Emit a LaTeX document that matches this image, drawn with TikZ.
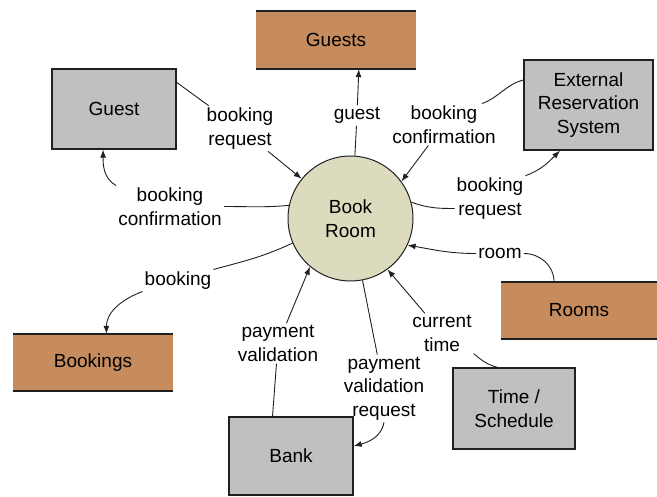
\documentclass[tikz,border=0pt]{standalone}
\usepackage{fontspec}
\setmainfont{Liberation Sans}
\usetikzlibrary{arrows.meta}

\definecolor{storebrown}{HTML}{C68C5E}
\definecolor{entitygray}{HTML}{C0C0C0}
\definecolor{bubblefill}{HTML}{DDDBBE}
\definecolor{inkline}{HTML}{202020}

\tikzset{
  every node/.style={font=\fontsize{19}{23.5}\selectfont, text=black},
  proc/.style={rectangle, draw=inkline, line width=1.3pt, fill=entitygray, align=center},
  store/.style={rectangle, draw=none, fill=storebrown, align=center},
  storeedge/.style={draw=inkline, line width=1.5pt},
  bubble/.style={circle, draw=inkline, line width=1pt, fill=bubblefill,
    minimum size=125pt, inner sep=0pt, align=center},
  flowlabel/.style={align=center, inner sep=2pt, yshift=-2.5pt},
  flow/.style={draw=inkline, line width=0.9pt},
  flowarrow/.style={flow, -{Latex[length=8pt,width=6pt]}}
}

\begin{document}
\begin{tikzpicture}[x=1pt,y=1pt]
  \useasboundingbox (0,0) rectangle (657,-497);

  % external entities
  \node[proc, minimum width=124pt, minimum height=80pt] (guest) at (114,-109) {Guest};
  \node[proc, minimum width=129pt, minimum height=90pt] (ext) at (588.5,-105) {External\\Reservation\\System};
  \node[proc, minimum width=122pt, minimum height=81pt] (time) at (514,-408.5) {Time /\\Schedule};
  \node[proc, minimum width=124pt, minimum height=78pt] (bank) at (291,-456) {Bank};

  % data stores
  \node[store, minimum width=160pt, minimum height=58pt] (guests) at (336,-40) {Guests};
  \node[store, minimum width=156pt, minimum height=57pt] (rooms) at (579,-310.5) {Rooms};
  \node[store, minimum width=160pt, minimum height=57pt] (bookings) at (93,-362.5) {Bookings};
  \foreach \s in {guests,rooms,bookings}
    \draw[storeedge] (\s.north west) -- (\s.north east)
                     (\s.south west) -- (\s.south east);

  % process
  \node[bubble] (room) at (350.5,-218.5) {Book\\Room};

  % flow labels
  \node[flowlabel] (lbr1)   at (240,-126) {booking\\request};
  \node[flowlabel] (lbc1)   at (170,-204) {booking\\confirmation};
  \node[flowlabel] (lguest) at (357,-113) {guest};
  \node[flowlabel] (lbc2)   at (444,-122) {booking\\confirmation};
  \node[flowlabel] (lbr2)   at (490,-196) {booking\\request};
  \node[flowlabel] (lroom)  at (500,-251) {room};
  \node[flowlabel] (lct)    at (442,-331) {current\\time};
  \node[flowlabel] (lpvr)   at (384,-386) {payment\\validation\\request};
  \node[flowlabel] (lpv)    at (278,-341) {payment\\validation};
  \node[flowlabel] (lbk)    at (178,-278) {booking};

  % Guest -> Book Room
  \draw[flow] (guest.23) -- (lbr1);
  \draw[flowarrow] (lbr1) -- (room);

  % Book Room -> Guest
  \draw[flow] (room.168) to[out=185,in=0] (lbc1.east);
  \draw[flowarrow] (lbc1.north west) to[out=150,in=-90] (guest.-105);

  % Book Room -> Guests
  \draw[flow] (room.86) -- (lguest);
  \draw[flowarrow] (lguest) -- (guests.-52);

  % External Reservation System -> Book Room
  \draw[flow] (ext.159) to[out=195,in=20] ([xshift=-16pt]lbc2.north east);
  \draw[flowarrow] (lbc2) -- (room.36);

  % Book Room -> External Reservation System
  \draw[flow] (room.15) to[out=-20,in=180] ([yshift=-10pt]lbr2.west);
  \draw[flowarrow] (lbr2.north east) to[out=20,in=-135] (ext.-122);

  % Rooms -> Book Room
  \draw[flow] (rooms.131) to[out=90,in=0] (lroom.east);
  \draw[flowarrow] (lroom.west) to[out=180,in=-10] (room.-25);

  % Time / Schedule -> Book Room
  \draw[flow] (time.112) to[out=165,in=-40] (lct.south east);
  \draw[flowarrow] (lct) -- (room.-54);

  % Book Room -> Bank
  \draw[flow] (room.-79) -- (lpvr);
  \draw[flowarrow] (lpvr.south) to[out=-100,in=15] (bank.9);

  % Bank -> Book Room
  \draw[flow] (bank.115) -- (lpv);
  \draw[flowarrow] (lpv) -- (room.-130);

  % Book Room -> Bookings
  \draw[flow] (room.-157) to[out=205,in=15] (lbk.north east);
  \draw[flowarrow] (lbk.south west) to[out=200,in=90] (bookings.65);
\end{tikzpicture}
\end{document}
